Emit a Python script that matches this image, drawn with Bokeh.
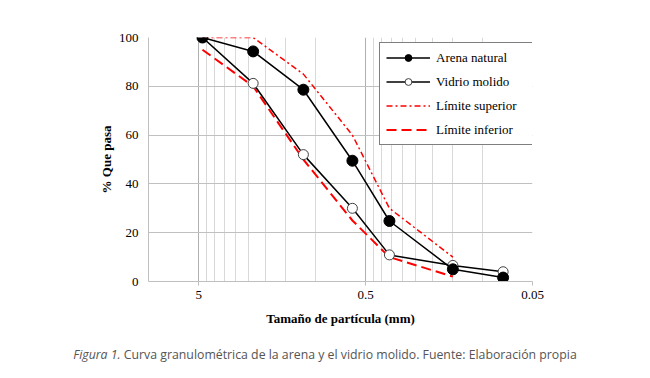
from bokeh.plotting import figure
from bokeh.models import Range1d, FixedTicker, Legend, LegendItem, Div, CustomJSTickFormatter
from bokeh.layouts import column
from bokeh.embed import file_html
from bokeh.resources import INLINE

# ---- data ----
sizes = [4.75, 2.36, 1.18, 0.6, 0.36, 0.15, 0.075]
arena_natural = [100, 94.3, 78.6, 49.5, 24.8, 5.0, 1.6]
vidrio_molido = [100, 81.2, 52.0, 30.0, 10.9, 6.6, 4.0]
lim_sizes = [4.75, 2.36, 1.18, 0.6, 0.36, 0.15]
limite_superior = [100, 100, 85, 60, 30, 10]
limite_inferior = [95, 80, 50, 25, 10, 2]
x_ticks = [5, 0.5, 0.05]
x_minor = [4.5, 4, 3.5, 3, 2.5, 2, 1.5, 1, 0.45, 0.4, 0.35, 0.3, 0.25, 0.2, 0.15, 0.1]
y_ticks = [0, 20, 40, 60, 80, 100]
caption_lead = "Figura 1."
caption_text = "Curva granulométrica de la arena y el vidrio molido. Fuente: Elaboración propia"

SERIF = "Liberation Serif"

p = figure(width=650, height=340, x_axis_type="log",
           x_range=Range1d(10, 0.05), y_range=Range1d(0, 100),
           output_backend="svg", toolbar_location=None,
           min_border_left=148, min_border_right=118,
           min_border_top=37, min_border_bottom=59)
p.outline_line_color = None
p.background_fill_color = "white"
p.border_fill_color = "white"

# axes
xa = p.xaxis[0]
xa.ticker = FixedTicker(ticks=x_ticks, minor_ticks=x_minor)
xa.formatter = CustomJSTickFormatter(code="return tick.toString();")
xa.axis_label = "Tamaño de partícula (mm)"
ya = p.yaxis[0]
ya.ticker = FixedTicker(ticks=y_ticks)
ya.axis_label = "% Que pasa"
for ax in (xa, ya):
    ax.axis_line_color = "#bfbfbf"
    ax.major_tick_line_color = "#bfbfbf"
    ax.minor_tick_line_color = None
    ax.major_tick_in = 0
    ax.major_label_text_font = SERIF
    ax.major_label_text_font_size = "13px"
    ax.major_label_text_color = "black"
    ax.axis_label_text_font = SERIF
    ax.axis_label_text_font_size = "13px"
    ax.axis_label_text_font_style = "bold"
    ax.axis_label_text_color = "black"
xa.major_tick_out = 4
xa.major_label_standoff = 5
xa.axis_label_standoff = 9
ya.major_tick_out = 0
ya.major_label_standoff = 10
ya.axis_label_standoff = 2

p.xgrid.ticker = xa.ticker
p.xgrid.grid_line_color = "#b0b0b0"
p.xgrid.minor_grid_line_color = "#d9d9d9"
p.ygrid.ticker = ya.ticker
p.ygrid.grid_line_color = "#c0c0c0"

# limits
r_sup = p.line(lim_sizes, limite_superior, line_color="#ff0000", line_width=1.5,
               line_dash="6 3 2 3")
r_inf = p.line(lim_sizes, limite_inferior, line_color="#ff0000", line_width=2,
               line_dash="10 5")

# series (vidrio first so the filled markers sit on top)
r_vm_l = p.line(sizes, vidrio_molido, line_color="black", line_width=1.5)
r_vm_m = p.scatter(sizes, vidrio_molido, marker="circle", size=10,
                   fill_color="white", line_color="#404040", line_width=1)
r_an_l = p.line(sizes, arena_natural, line_color="black", line_width=1.5)
r_an_m = p.scatter(sizes, arena_natural, marker="circle", size=11,
                   fill_color="black", line_color="black")

legend = Legend(items=[
    LegendItem(label="Arena natural", renderers=[r_an_l, r_an_m]),
    LegendItem(label="Vidrio molido", renderers=[r_vm_l, r_vm_m]),
    LegendItem(label="Límite superior", renderers=[r_sup]),
    LegendItem(label="Límite inferior", renderers=[r_inf]),
], location=(231, 136))
legend.margin = 0
legend.padding = 6
legend.spacing = 7
legend.glyph_width = 44
legend.glyph_height = 17
legend.label_height = 17
legend.label_width = 93
legend.label_standoff = 6
legend.label_text_font = SERIF
legend.label_text_font_size = "13px"
legend.label_text_color = "black"
legend.border_line_color = "black"
legend.border_line_width = 1
legend.background_fill_color = "white"
legend.background_fill_alpha = 1
p.add_layout(legend, "center")

caption = Div(
    text=f"<i>{caption_lead}</i> {caption_text}",
    width=650, height=38,
    styles={"font-family": "'Open Sans', sans-serif", "font-size": "12.3px",
            "color": "#555555", "text-align": "center", "width": "650px",
            "margin": "0", "padding-top": "7px", "line-height": "16px",
            "background-color": "white"},
)

layout = column(p, caption, spacing=0)
open("out.html", "w").write(file_html(layout, INLINE))
